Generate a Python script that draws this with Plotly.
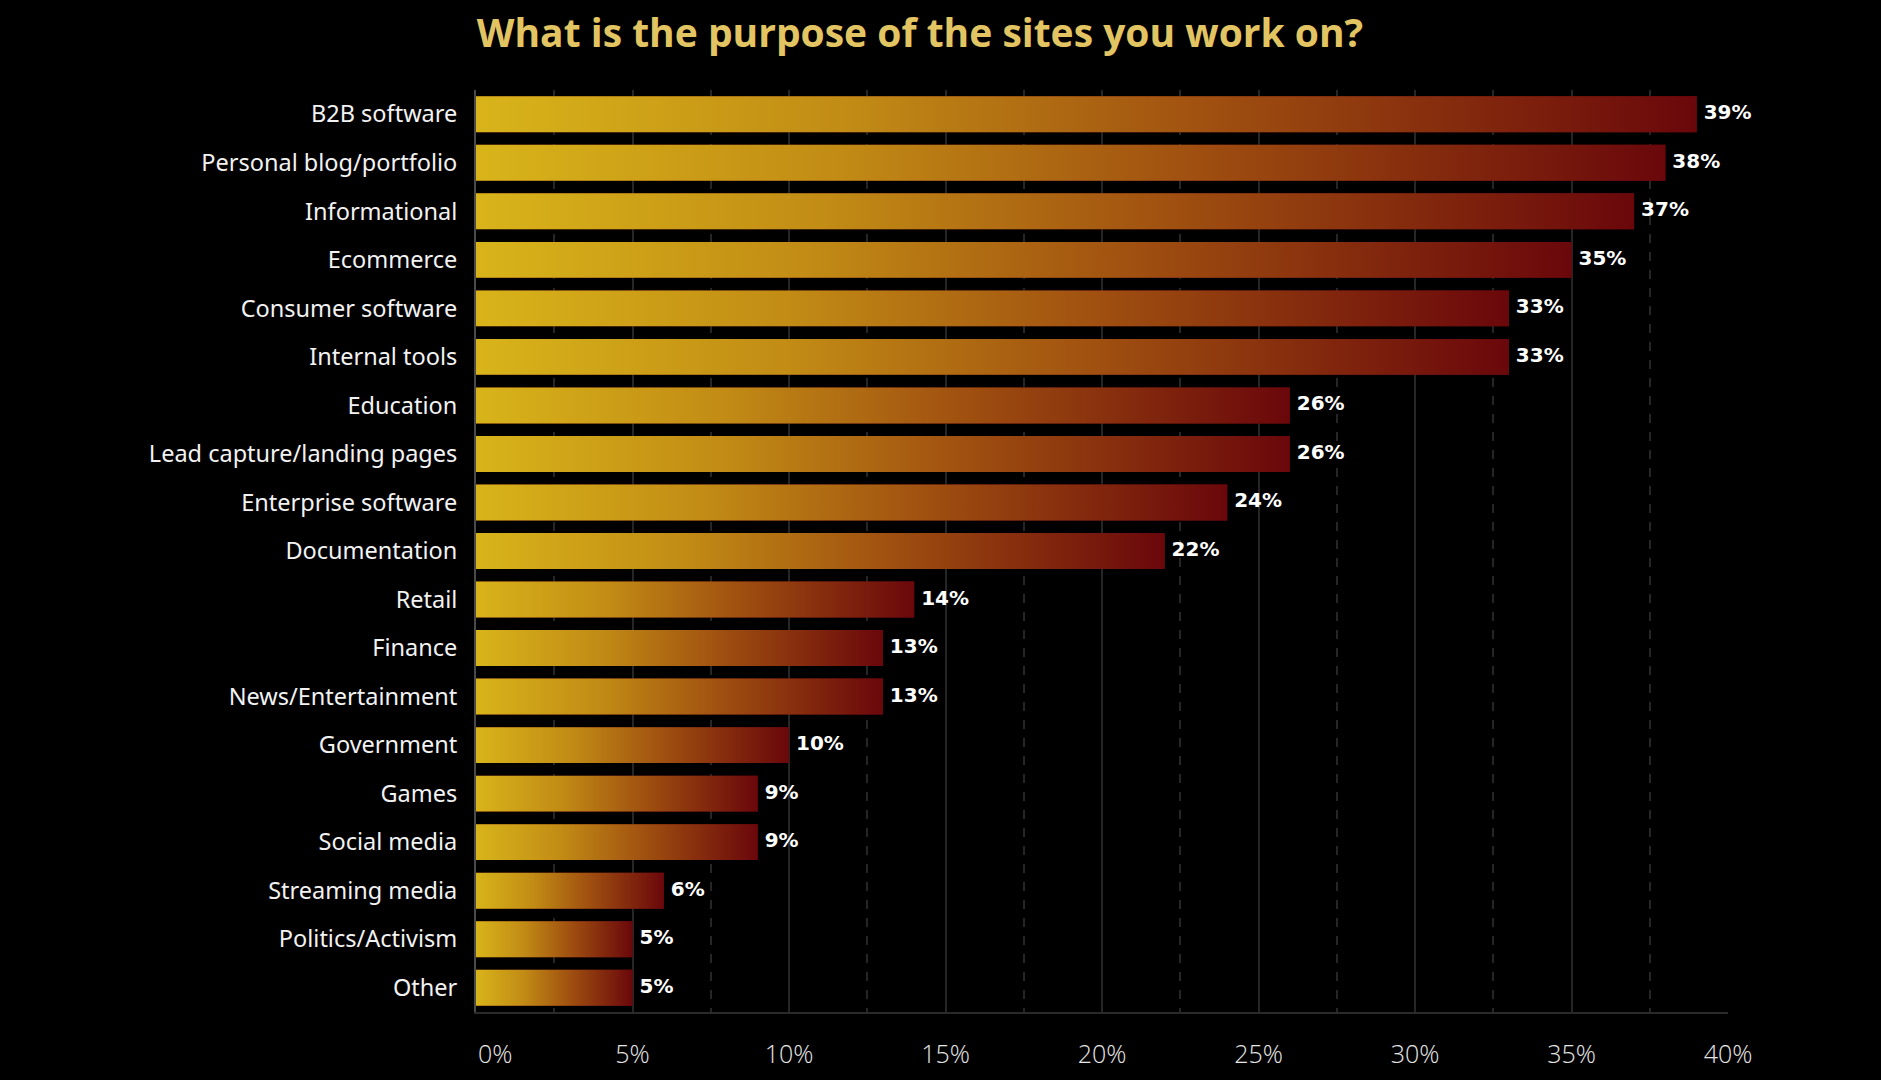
import plotly.graph_objects as go

categories = ["B2B software", "Personal blog/portfolio", "Informational", "Ecommerce",
              "Consumer software", "Internal tools", "Education", "Lead capture/landing pages",
              "Enterprise software", "Documentation", "Retail", "Finance", "News/Entertainment",
              "Government", "Games", "Social media", "Streaming media", "Politics/Activism", "Other"]
values = [39, 38, 37, 35, 33, 33, 26, 26, 24, 22, 14, 13, 13, 10, 9, 9, 6, 5, 5]
tick_vals = [0, 5, 10, 15, 20, 25, 30, 35, 40]
tick_text = ["0%", "5%", "10%", "15%", "20%", "25%", "30%", "35%", "40%"]

title_text = "What is the purpose of the sites you work on?"

BAR_W = 0.74
HALF = BAR_W / 2
grad = [[0.0, "#d8b41a"], [0.3, "#c28c15"], [0.6, "#a05010"], [1.0, "#6a070b"]]

fig = go.Figure()
idx = list(range(len(categories)))

# base bars (library bar trace)
fig.add_trace(go.Bar(x=values, y=idx, orientation="h", width=BAR_W,
                     marker=dict(color="#6a070b", line=dict(width=0)),
                     hoverinfo="skip", showlegend=False))

# gradient overlays, one per bar, built from the values
for i, v in zip(idx, values):
    fig.add_trace(go.Scatter(
        x=[0, v, v, 0, 0], y=[i - HALF, i - HALF, i + HALF, i + HALF, i - HALF],
        mode="lines", line=dict(width=0), fill="toself",
        fillgradient=dict(type="horizontal", colorscale=grad, start=0, stop=v),
        hoverinfo="skip", showlegend=False))

# value labels
fig.add_trace(go.Scatter(
    x=values, y=idx, mode="text", text=[" %d%%" % v for v in values],
    textposition="middle right", cliponaxis=False,
    textfont=dict(family="DejaVu Sans", size=20, color="#ffffff", weight="bold"),
    hoverinfo="skip", showlegend=False))

fig.update_layout(
    width=1881, height=1080,
    paper_bgcolor="#000000", plot_bgcolor="#000000",
    margin=dict(l=476, r=153, t=90, b=68),
    title=dict(text=title_text, x=920 / 1881, xanchor="center", y=1 - 33 / 1080, yanchor="middle",
               font=dict(family="Open Sans", size=39, color="#e2c562", weight="bold")),
    showlegend=False,
)
fig.update_xaxes(
    range=[0, 40], tickvals=tick_vals, ticktext=[""] + tick_text[1:],
    showgrid=True, gridcolor="#262626", gridwidth=2,
    minor=dict(dtick=2.5, tick0=0, showgrid=True, gridcolor="#262626", griddash="dash", gridwidth=2),
    showline=True, linecolor="#2a2a2a", linewidth=2, mirror=False,
    zeroline=False, ticks="", ticklabelstandoff=19, automargin=False,
    tickfont=dict(family="Open Sans", size=25, color="#e6e6e6", weight=300),
)
fig.add_annotation(x=0, y=0, xref="x", yref="paper", yshift=-41, text=tick_text[0],
                   showarrow=False, xanchor="left", yanchor="middle",
                   font=dict(family="Open Sans", size=25, color="#e6e6e6", weight=300))
fig.update_yaxes(
    range=[18.5, -0.5], tickvals=idx, ticktext=categories,
    showgrid=False, zeroline=False, showline=True, linecolor="#4a4a4a", linewidth=2,
    ticks="", ticklabelstandoff=12, automargin=False,
    tickfont=dict(family="Noto Sans", size=23.5, color="#f2f2f2"),
)

fig.write_html("out.html", config={"displayModeBar": False},
               post_script="document.body.style.margin='0';document.body.style.background='#000';")
